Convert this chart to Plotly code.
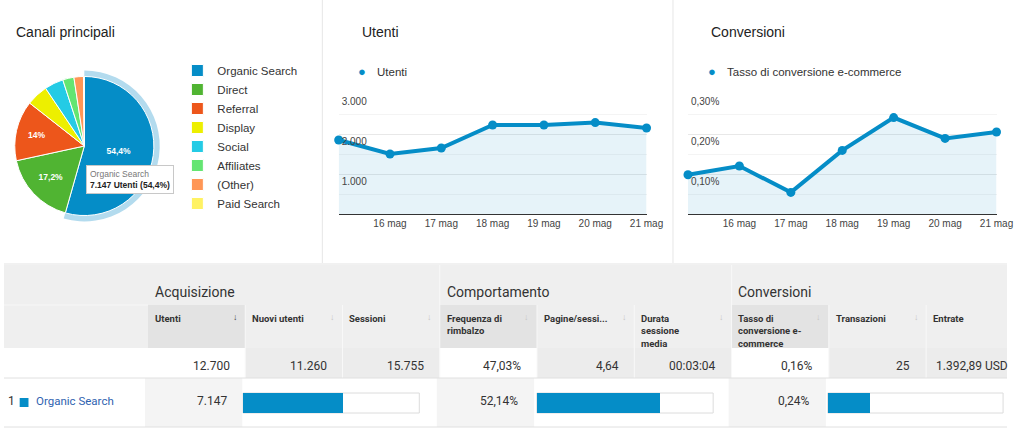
import plotly.graph_objects as go

W, H = 1024, 430


def X(px):
    return px / W


def Y(py):
    return 1 - py / H


# ---------------- data ----------------
channels = ["Organic Search", "Direct", "Referral", "Display", "Social",
            "Affiliates", "(Other)", "Paid Search"]
channel_users = [7147, 2260, 1839, 657, 578, 342, 289, 26]
channel_colors = ["#058dc7", "#50b432", "#ed561b", "#edef00", "#24cbe5",
                  "#64e572", "#ff9655", "#fff263"]

days = ["15 mag", "16 mag", "17 mag", "18 mag", "19 mag", "20 mag", "21 mag"]
day_ticks = ["...", "16 mag", "17 mag", "18 mag", "19 mag", "20 mag", "21 mag"]
users_daily = [1850, 1500, 1650, 2225, 2225, 2285, 2150]
conv_rate_daily = [0.098, 0.120, 0.054, 0.159, 0.241, 0.189, 0.205]  # %

users_ticks = [1000, 2000, 3000]
conv_ticks = [0.10, 0.20, 0.30]

groups = ["Acquisizione", "Comportamento", "Conversioni"]
columns = ["Utenti", "Nuovi utenti", "Sessioni", "Frequenza di<br>rimbalzo",
           "Pagine/sessi...", "Durata<br>sessione<br>media",
           "Tasso di<br>conversione e-<br>commerce", "Transazioni", "Entrate"]
totals = ["12.700", "11.260", "15.755", "47,03%", "4,64", "00:03:04",
          "0,16%", "25", "1.392,89 USD"]
row_rank = "1"
row_channel = "Organic Search"
row_values = ["7.147", "52,14%", "0,24%"]          # first column of each group
row_bar_shares = [56.6, 69.6, 24.2]                # % bars in the other columns

BLUE = "#058dc7"
ARIAL = "Liberation Sans, Arial, sans-serif"
ROBOTO = "Roboto, Arial, sans-serif"


def it_num(n):
    return f"{n:,}".replace(",", ".")


def it_pct(p):
    s = f"{p:.1f}".replace(".", ",")
    return s[:-2] if s.endswith(",0") else s


total_users = sum(channel_users)
pcts = [u / total_users * 100 for u in channel_users]
pie_text = [f"<b>{it_pct(p)}%</b>" if p >= 10 else "" for p in pcts]

fig = go.Figure()

# ---------------- pie ----------------
cx, cy, r, ring = 82, 146, 71, 77
fig.add_trace(go.Pie(
    labels=channels, values=channel_users, sort=False, direction="clockwise",
    rotation=0, showlegend=False, hoverinfo="skip", textinfo="none",
    marker=dict(colors=["#b3dbee"] + ["rgba(0,0,0,0)"] * (len(channels) - 1),
                line=dict(width=0)),
    domain=dict(x=[X(cx - ring), X(cx + ring)], y=[Y(cy + ring), Y(cy - ring)]),
))
fig.add_trace(go.Pie(
    labels=channels, values=channel_users, sort=False, direction="clockwise",
    rotation=0, text=pie_text, textinfo="text", textposition="inside",
    insidetextorientation="horizontal",
    textfont=dict(family=ARIAL, size=8.5, color="white"),
    marker=dict(colors=channel_colors, line=dict(color="white", width=1)),
    domain=dict(x=[X(cx - r), X(cx + r)], y=[Y(cy + r), Y(cy - r)]),
    legend="legend",
))

# ---------------- line charts ----------------
fig.add_trace(go.Scatter(
    x=days, y=users_daily, mode="lines+markers", fill="tozeroy",
    fillcolor="rgba(5,141,199,0.10)", line=dict(color=BLUE, width=4),
    marker=dict(size=9, color=BLUE), cliponaxis=False, showlegend=False,
    xaxis="x", yaxis="y"))
fig.add_trace(go.Scatter(
    x=days, y=conv_rate_daily, mode="lines+markers", fill="tozeroy",
    fillcolor="rgba(5,141,199,0.10)", line=dict(color=BLUE, width=4),
    marker=dict(size=9, color=BLUE), cliponaxis=False, showlegend=False,
    xaxis="x2", yaxis="y2"))

xcommon = dict(type="category", range=[0, len(days) - 1], tickvals=days,
               ticktext=day_ticks, showgrid=False, showline=True,
               linecolor="#333", linewidth=1, ticks="", zeroline=False,
               tickfont=dict(family=ARIAL, size=10, color="#444"),
               fixedrange=True)
ycommon = dict(showgrid=True, gridcolor="#e8e8e8", zeroline=False,
               showline=False, ticks="", ticklabelposition="inside bottom",
               tickfont=dict(family=ARIAL, size=10, color="#444"),
               fixedrange=True)

# ---------------- table bars ----------------
bar_px = [(244, 424), (544, 724), (841, 1020)]
for i, (share, (x0, x1)) in enumerate(zip(row_bar_shares, bar_px)):
    n = i + 3
    fig.add_trace(go.Bar(
        x=[share], y=[0], orientation="h", width=1,
        marker=dict(color=BLUE, line=dict(width=0)), showlegend=False,
        hoverinfo="skip", xaxis=f"x{n}", yaxis=f"y{n}"))

layout_axes = {}
layout_axes["xaxis"] = dict(xcommon, domain=[X(341.7), X(656)], anchor="y")
layout_axes["yaxis"] = dict(ycommon, domain=[Y(214), Y(94)], anchor="x",
                            range=[0, 3000], tickvals=users_ticks,
                            ticktext=[it_num(v) for v in users_ticks],
                            minor=dict(tickvals=[500, 1500, 2500],
                                       showgrid=True, gridcolor="#f4f4f4"))
layout_axes["xaxis2"] = dict(xcommon, domain=[X(698.3), X(1013.3)], anchor="y2")
layout_axes["yaxis2"] = dict(ycommon, domain=[Y(214), Y(94)], anchor="x2",
                             range=[0, 0.30], tickvals=conv_ticks,
                             ticktext=[f"{v:.2f}".replace(".", ",") + "%"
                                       for v in conv_ticks],
                             minor=dict(tickvals=[0.05, 0.15, 0.25],
                                        showgrid=True, gridcolor="#f4f4f4"))
for i, (x0, x1) in enumerate(bar_px):
    n = i + 3
    layout_axes[f"xaxis{n}"] = dict(domain=[X(x0), X(x1)], range=[0, 100],
                                    visible=False, fixedrange=True,
                                    anchor=f"y{n}")
    layout_axes[f"yaxis{n}"] = dict(domain=[Y(413), Y(393)], range=[-0.5, 0.5],
                                    visible=False, fixedrange=True,
                                    anchor=f"x{n}")

# ---------------- shapes ----------------
shapes = []


def clampx(x):
    return max(0, min(W, x))


def rect(x0, y0, x1, y1, color, line=None):
    shapes.append(dict(type="rect", xref="paper", yref="paper",
                       x0=X(clampx(x0)), x1=X(clampx(x1)), y0=Y(y1), y1=Y(y0),
                       fillcolor=color, line=dict(width=0) if line is None else line,
                       layer="below"))


def hline(y, x0, x1, color, w=1):
    shapes.append(dict(type="line", xref="paper", yref="paper", x0=X(x0),
                       x1=X(x1), y0=Y(y), y1=Y(y), line=dict(color=color, width=w),
                       layer="below"))


def vline(x, y0, y1, color, w=1):
    shapes.append(dict(type="line", xref="paper", yref="paper", x0=X(x), x1=X(x),
                       y0=Y(y1), y1=Y(y0), line=dict(color=color, width=w),
                       layer="below"))


# panel separators
vline(325, 0, 263, "#e6e6e6")
vline(683, 0, 263, "#e6e6e6")
hline(264, 0, W, "#e3e3e3")

col0, colw = 147, 99.3
edges = [col0 + i * colw for i in range(len(columns) + 1)]
first_of_group = [0, 3, 6]

rect(0, 265, W, 348, "#efefef")
hline(305, 0, col0, "#f7f7f7")
for k in range(len(columns)):
    if k in first_of_group:
        rect(edges[k], 305, edges[k + 1], 348, "#e3e3e3")
        rect(edges[k], 348, edges[k + 1], 378, "#ffffff")
        rect(edges[k] - 3, 378, edges[k + 1] - 3, 427, "#f4f4f4")
    else:
        rect(edges[k], 348, edges[k + 1], 378, "#ececec")
for k in range(1, len(columns)):
    vline(edges[k], 305, 378, "#f8f8f8")
for k in first_of_group[1:]:
    vline(edges[k], 265, 305, "#f8f8f8")
hline(378, 0, W, "#e0e0e0")
hline(427, 0, W, "#e0e0e0")

for i in range(len(bar_px)):
    n = i + 3
    shapes.append(dict(type="rect", xref=f"x{n} domain", yref=f"y{n} domain",
                       x0=0, x1=1, y0=0, y1=1, fillcolor="white",
                       line=dict(color="#dcdcdc", width=1), layer="below"))

# channel swatch
rect(16, 398, 25, 407, BLUE)

# ---------------- annotations ----------------
ann = []


def text(x, y, s, size=12, color="#333", family=ARIAL, xanchor="left",
         yanchor="middle", **kw):
    ann.append(dict(x=X(x), y=Y(y), xref="paper", yref="paper", text=s,
                    showarrow=False, xanchor=xanchor, yanchor=yanchor,
                    font=dict(size=size, color=color, family=family), **kw))


text(10, 32, "Canali principali", 14, "#222")
text(363, 32, "Utenti", 14, "#222")
text(720, 32, "Conversioni", 14, "#222")
text(366, 72, "●", 13, BLUE, xanchor="center")
text(379, 72, "Utenti", 11.5, "#333")
text(723, 72, "●", 13, BLUE, xanchor="center")
text(736.5, 72, "Tasso di conversione e-commerce", 11.5, "#333")

# tooltip
text(84, 165, f"<span style='color:#777'>{channels[0]}</span><br>"
     f"<b>{it_num(channel_users[0])} Utenti ({it_pct(pcts[0])}%)</b>",
     8.5, "#222", yanchor="top", align="left", bgcolor="white",
     bordercolor="#c8c8c8", borderwidth=1, borderpad=3)

# table
for g, k in zip(groups, first_of_group):
    text(edges[k] + 5, 292, g, 14, "#333", ROBOTO)
for k, c in enumerate(columns):
    text(edges[k] + 5, 311, f"<b>{c}</b>", 9.5, "#333", ROBOTO,
         yanchor="top", align="left")
    if edges[k] + 89 < W:
        text(edges[k] + 89, 317, "↓", 9, "#444" if k == 0 else "#c6c6c6",
             ROBOTO, xanchor="center")
    text(edges[k + 1] - 14, 366, totals[k], 12, "#333", ROBOTO, xanchor="right")

text(2, 401, row_rank, 12, "#333", ROBOTO)
text(31, 401, row_channel, 11.5, "#2f62b0", ROBOTO)
for v, k in zip(row_values, first_of_group):
    text(edges[k + 1] - 17, 401, v, 12, "#333", ROBOTO, xanchor="right")

fig.update_layout(
    height=H, autosize=True, margin=dict(l=0, r=0, t=0, b=0),
    paper_bgcolor="white", plot_bgcolor="rgba(0,0,0,0)",
    separators=",.", bargap=0,
    shapes=shapes, annotations=ann,
    legend=dict(x=X(177), y=Y(56), xanchor="left", yanchor="top",
                font=dict(family=ARIAL, size=11.5, color="#333"),
                bgcolor="rgba(0,0,0,0)", itemwidth=30, tracegroupgap=0,
                itemclick=False, itemdoubleclick=False),
    **layout_axes,
)

fig.write_html("out.html", config={"displayModeBar": False})
